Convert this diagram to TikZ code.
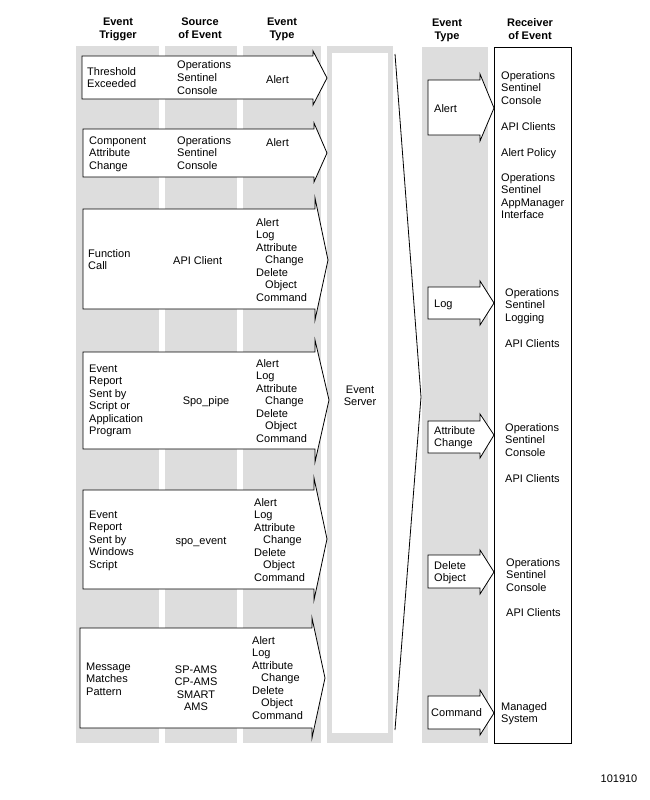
\documentclass[tikz,border=0pt]{standalone}
\usepackage{fontspec}
\setmainfont{Liberation Sans}
\newcommand{\mtl}[1]{\begin{tabular}[t]{@{}l@{}}#1\end{tabular}}
\newcommand{\mtc}[1]{\begin{tabular}[t]{@{}c@{}}#1\end{tabular}}
\newcommand{\ind}{\hspace*{9pt}}
\definecolor{colgray}{RGB}{221,221,221}
\tikzset{
  lbl/.style={inner sep=0pt, anchor=base west, font=\fontsize{11}{12.5}\selectfont},
  clbl/.style={inner sep=0pt, anchor=base, font=\fontsize{11}{12.5}\selectfont},
  hdr/.style={inner sep=0pt, anchor=base, font=\fontsize{11}{12.5}\selectfont\bfseries},
  colbg/.style={fill=colgray, draw=none},
  evarr/.style={fill=white, draw=black, line width=0.8pt, line join=miter},
}
% #1 x0, #2 top, #3 bottom, #4 head top, #5 head bottom, #6 base x, #7 tip x, #8 tip y
\newcommand{\evarrow}[8]{\path[evarr] (#1,#2) -- (#6,#2) -- (#6,#4) -- (#7,#8) -- (#6,#5) -- (#6,#3) -- (#1,#3) -- cycle;}
\begin{document}
\begin{tikzpicture}[x=1pt,y=-1pt]
\useasboundingbox (0,0) rectangle (650,800);
% background columns
\path[colbg] (76,46) rectangle (159,743);
\path[colbg] (165,46) rectangle (237,743);
\path[colbg] (243,46) rectangle (321,743);
\path[colbg] (327,46) rectangle (393,743);
\fill[white] (332,53) rectangle (388,733);
\path[colbg] (422,47) rectangle (488,743);
\draw[fill=white, line width=0.8pt] (494,47) rectangle (571,743);
% headers
\node[hdr] (h1) at (118,26) {\mtc{Event\\Trigger}};
\node[hdr] (h2) at (200,26) {\mtc{Source\\of Event}};
\node[hdr] (h3) at (282,26) {\mtc{Event\\Type}};
\node[hdr] (h4) at (447,27) {\mtc{Event\\Type}};
\node[hdr] (h5) at (530,27) {\mtc{Receiver\\of Event}};
% left arrows
\evarrow{82}{56}{99}{51}{105}{313}{327}{78}
\evarrow{83}{129}{177}{123}{182}{314}{327}{153}
\evarrow{83}{209}{309}{198}{320}{315}{328}{260}
\evarrow{83}{352}{449}{340}{462}{315}{329}{400}
\evarrow{83}{490}{589}{478}{600}{314}{327}{539}
\evarrow{80}{628}{728}{618}{738}{312}{325}{678}
% arrow 1
\node[lbl] (t1) at (87,75) {\mtl{Threshold\\Exceeded}};
\node[lbl] (s1) at (177,69) {\mtl{Operations\\Sentinel\\Console}};
\node[lbl] (e1) at (266,84) {Alert};
% arrow 2
\node[lbl] (t2) at (89,144) {\mtl{Component\\Attribute\\Change}};
\node[lbl] (s2) at (177,144) {\mtl{Operations\\Sentinel\\Console}};
\node[lbl] (e2) at (266,146) {Alert};
% arrow 3
\node[lbl] (t3) at (88,257) {\mtl{Function\\Call}};
\node[lbl] (s3) at (173,264) {API Client};
\node[lbl] (e3) at (256,226) {\mtl{Alert\\Log\\Attribute\\\ind Change\\Delete\\\ind Object\\Command}};
% arrow 4
\node[lbl] (t4) at (89,372) {\mtl{Event\\Report\\Sent by\\Script or\\Application\\Program}};
\node[clbl] (s4) at (206,404) {Spo\_pipe};
\node[lbl] (e4) at (256,367) {\mtl{Alert\\Log\\Attribute\\\ind Change\\Delete\\\ind Object\\Command}};
% arrow 5
\node[lbl] (t5) at (89,518) {\mtl{Event\\Report\\Sent by\\Windows\\Script}};
\node[clbl] (s5) at (201,544) {spo\_event};
\node[lbl] (e5) at (254,506) {\mtl{Alert\\Log\\Attribute\\\ind Change\\Delete\\\ind Object\\Command}};
% arrow 6
\node[lbl] (t6) at (86,670) {\mtl{Message\\Matches\\Pattern}};
\node[clbl] (s6) at (196,673) {\mtc{SP-AMS\\CP-AMS\\SMART\\AMS}};
\node[lbl] (e6) at (252,644) {\mtl{Alert\\Log\\Attribute\\\ind Change\\Delete\\\ind Object\\Command}};
% event server
\node[clbl] (server) at (360,393) {\mtc{Event\\Server}};
% fan
\coordinate (fanA) at (395,54);
\coordinate (fanTip) at (421,397);
\coordinate (fanB) at (395,730);
\draw[line width=0.8pt] (fanA) -- (fanTip) -- (fanB);
% right arrows
\evarrow{428}{80}{135}{74}{141}{480}{494}{108}
\evarrow{428}{287}{319}{281}{325}{480}{494}{303}
\evarrow{428}{421}{453}{414}{458}{480}{494}{435}
\evarrow{428}{555}{588}{550}{594}{480}{494}{572}
\evarrow{428}{696}{729}{690}{735}{480}{494}{713}
\node[lbl] (ra) at (434,112) {Alert};
\node[lbl] (rl) at (434,307) {Log};
\node[lbl] (rc) at (434,434) {\mtl{Attribute\\Change}};
\node[lbl] (rd) at (434,569) {\mtl{Delete\\Object}};
\node[lbl] (rm) at (431,716) {Command};
% receivers
\node[lbl] (v1) at (501,79) {\mtl{Operations\\Sentinel\\Console}};
\node[lbl] (v2) at (501,130) {API Clients};
\node[lbl] (v3) at (501,156) {Alert Policy};
\node[lbl] (v4) at (501,181) {\mtl{Operations\\Sentinel\\AppManager\\Interface}};
\node[lbl] (v5) at (505,296) {\mtl{Operations\\Sentinel\\Logging}};
\node[lbl] (v6) at (505,347) {API Clients};
\node[lbl] (v7) at (505,431) {\mtl{Operations\\Sentinel\\Console}};
\node[lbl] (v8) at (505,482) {API Clients};
\node[lbl] (v9) at (506,566) {\mtl{Operations\\Sentinel\\Console}};
\node[lbl] (v10) at (506,616) {API Clients};
\node[lbl] (v11) at (501,710) {\mtl{Managed\\System}};
\node[clbl] (num) at (619,782) {101910};
\end{tikzpicture}
\end{document}
